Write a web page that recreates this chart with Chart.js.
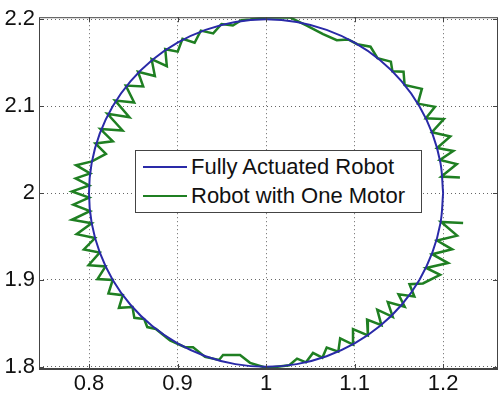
<!DOCTYPE html>
<html>
<head>
<meta charset="utf-8">
<script src="https://cdn.jsdelivr.net/npm/chart.js@4/dist/chart.umd.min.js"></script>
<style>
  body { margin: 0; background: #fff; }
  #wrap { position: relative; width: 500px; height: 394px; }
  #legend {
    position: absolute; left: 135px; top: 150px; width: 285px; height: 61px;
    border: 1px solid #444; background: #fff;
    font-family: "Liberation Sans", Arial, sans-serif; font-size: 22px; color: #111;
  }
  .item { position: absolute; left: 7px; height: 28px; display: flex; align-items: center; }
  .swatch { width: 44px; height: 2px; margin-right: 4px; }
</style>
</head>
<body>
<div id="wrap">
  <canvas id="plot" width="500" height="394"></canvas>
  <div id="legend"></div>
</div>
<script>
const xTicks = [0.8, 0.9, 1.0, 1.1, 1.2];
const yTicks = [1.8, 1.9, 2.0, 2.1, 2.2];

// desired path (fully actuated robot), read every 10 degrees
const blueX = [1.2, 1.1970, 1.1879, 1.1732, 1.1532, 1.1286, 1.1, 1.0684, 1.0347, 1.0,
  0.9653, 0.9316, 0.9, 0.8714, 0.8468, 0.8268, 0.8121, 0.8030, 0.8,
  0.8030, 0.8121, 0.8268, 0.8468, 0.8714, 0.9, 0.9316, 0.9653, 1.0,
  1.0347, 1.0684, 1.1, 1.1286, 1.1532, 1.1732, 1.1879, 1.1970, 1.2];
const blueY = [2.0, 2.0347, 2.0684, 2.1, 2.1286, 2.1532, 2.1732, 2.1879, 2.1970, 2.2,
  2.1970, 2.1879, 2.1732, 2.1532, 2.1286, 2.1, 2.0684, 2.0347, 2.0,
  1.9653, 1.9316, 1.9, 1.8714, 1.8468, 1.8268, 1.8121, 1.8030, 1.8,
  1.8030, 1.8121, 1.8268, 1.8468, 1.8714, 1.9, 1.9316, 1.9653, 2.0];

// robot with one motor, vertices of the zigzag
const greenX = [1.2226, 1.1977, 1.2158, 1.1932, 1.2102, 1.1876, 1.2056, 1.1808, 1.1966,
  1.1772, 1.1620, 1.1675, 1.1496, 1.1566, 1.1375, 1.1431, 1.1256, 1.1303, 1.1141,
  1.1150, 1.0982, 1.0982, 1.0837, 1.0816, 1.0685, 1.0636, 1.0530, 1.0451, 1.0350, 1.0262,
  1.0008, 0.9819, 0.9706, 0.9514, 0.9469, 0.9311, 0.9175, 0.9085, 0.8915,
  0.8755, 0.8658, 0.8623, 0.8512, 0.8491, 0.8338, 0.8382, 0.8219, 0.8268, 0.8096,
  0.8187, 0.7995, 0.8121, 0.7942, 0.8068, 0.7860, 0.8030, 0.7807, 0.8011, 0.7823,
  0.8001, 0.7808, 0.8002, 0.7849, 0.8013, 0.7854, 0.8033,
  0.8191, 0.8072, 0.8269, 0.8129, 0.8379, 0.8208, 0.8456, 0.8295, 0.8510, 0.8415,
  0.8612, 0.8553, 0.8744, 0.8707, 0.8879, 0.8861, 0.9002, 0.9056, 0.9193, 0.9263,
  0.9403, 0.9497, 0.9625,
  0.9720, 0.9819, 1.0008, 1.0271, 1.0460, 1.0644, 1.0799, 1.0927, 1.1030, 1.1180,
  1.1259, 1.1410,
  1.1427, 1.1553, 1.1565, 1.1760, 1.1714, 1.1908, 1.1805, 1.2008, 1.1873, 1.2081,
  1.1932, 1.2115, 1.1963, 1.2155, 1.1980, 1.2190];
const greenY = [1.9656, 1.9668, 1.9510, 1.9454, 1.9352, 1.9296, 1.9194, 1.9138, 1.9059,
  1.8959, 1.8951, 1.8809, 1.8835, 1.8690, 1.8744, 1.8574, 1.8657, 1.8479, 1.8544,
  1.8362, 1.8433, 1.8256, 1.8326, 1.8174, 1.8222, 1.8104, 1.8159, 1.8051, 1.8094, 1.8017,
  1.7985, 1.8045, 1.8135, 1.8135, 1.8078, 1.8113, 1.8225, 1.8225, 1.8304,
  1.8435, 1.8457, 1.8549, 1.8563, 1.8688, 1.8678, 1.8824, 1.8843, 1.9000, 1.9009,
  1.9155, 1.9170, 1.9316, 1.9351, 1.9482, 1.9526, 1.9653, 1.9692, 1.9791, 1.9867,
  1.9948, 2.0019, 2.0087, 2.0169, 2.0226, 2.0321, 2.0364,
  2.0451, 2.0571, 2.0596, 2.0737, 2.0721, 2.0913, 2.0874, 2.1066, 2.1043, 2.1238,
  2.1228, 2.1397, 2.1347, 2.1541, 2.1461, 2.1657, 2.1628, 2.1776, 2.1731, 2.1871,
  2.1838, 2.1947, 2.1930,
  2.1991, 2.2000, 2.2022, 2.2022, 2.1929, 2.1831, 2.1760, 2.1769, 2.1714, 2.1685,
  2.1554, 2.1513,
  2.1402, 2.1398, 2.1245, 2.1200, 2.1030, 2.0993, 2.0861, 2.0852, 2.0700, 2.0652,
  2.0518, 2.0485, 2.0382, 2.0334, 2.0190, 2.0180];

const toPoints = (xs, ys) => xs.map((x, i) => ({ x: x, y: ys[i] }));

const labelFont = { family: "'Liberation Sans', Arial, sans-serif", size: 22 };

// axes box with inward tick marks, like the matlab figure
const frame = {
  id: "frame",
  afterDatasetsDraw(chart) {
    const { ctx, chartArea: a, scales } = chart;
    ctx.save();
    ctx.strokeStyle = "#444";
    ctx.lineWidth = 1;
    ctx.strokeRect(a.left + 0.5, a.top + 0.5, a.right - a.left - 1, a.bottom - a.top - 1);
    ctx.beginPath();
    xTicks.forEach(v => {
      const px = Math.round(scales.x.getPixelForValue(v)) + 0.5;
      ctx.moveTo(px, a.bottom); ctx.lineTo(px, a.bottom - 5);
      ctx.moveTo(px, a.top); ctx.lineTo(px, a.top + 5);
    });
    yTicks.forEach(v => {
      const py = Math.round(scales.y.getPixelForValue(v)) + 0.5;
      ctx.moveTo(a.left, py); ctx.lineTo(a.left + 5, py);
      ctx.moveTo(a.right, py); ctx.lineTo(a.right - 5, py);
    });
    ctx.stroke();
    ctx.lineWidth = 2;
    ctx.beginPath();
    ctx.moveTo(a.left, a.bottom); ctx.lineTo(a.right, a.bottom);
    ctx.stroke();
    ctx.restore();
  }
};

const chart = new Chart(document.getElementById("plot"), {
  type: "scatter",
  data: {
    datasets: [
      { label: "Fully Actuated Robot", data: toPoints(blueX, blueY), showLine: true,
        borderColor: "#2a2aa8", borderWidth: 2, pointRadius: 0, tension: 0.4 },
      { label: "Robot with One Motor", data: toPoints(greenX, greenY), showLine: true,
        borderColor: "#1f7f22", borderWidth: 2.5, pointRadius: 0, tension: 0 }
    ]
  },
  options: {
    responsive: false,
    animation: false,
    layout: { padding: { top: 10, right: 2, left: 0, bottom: 0 } },
    plugins: { legend: { display: false }, tooltip: { enabled: false } },
    scales: {
      x: {
        type: "linear", min: 0.7435, max: 1.262,
        afterBuildTicks: s => { s.ticks = xTicks.map(v => ({ value: v })); },
        afterFit: s => { s.height = 25; },
        ticks: { font: labelFont, color: "#111", padding: 2, maxRotation: 0,
          callback: v => String(+v.toFixed(1)) },
        grid: { color: "#666", lineWidth: 1, drawTicks: false },
        border: { display: false, dash: [1, 3] }
      },
      y: {
        type: "linear", min: 1.7974, max: 2.2025,
        afterBuildTicks: s => { s.ticks = yTicks.map(v => ({ value: v })); },
        afterFit: s => { s.width = 39; },
        ticks: { font: labelFont, color: "#111", padding: 4,
          callback: v => String(+v.toFixed(1)) },
        grid: { color: "#666", lineWidth: 1, drawTicks: false },
        border: { display: false, dash: [1, 3] }
      }
    }
  },
  plugins: [frame]
});

// legend box drawn from the datasets
const legend = document.getElementById("legend");
chart.data.datasets.forEach((ds, i) => {
  const item = document.createElement("div");
  item.className = "item";
  item.style.top = (2 + i * 29) + "px";
  const sw = document.createElement("span");
  sw.className = "swatch";
  sw.style.background = ds.borderColor;
  const txt = document.createElement("span");
  txt.textContent = ds.label;
  item.appendChild(sw);
  item.appendChild(txt);
  legend.appendChild(item);
});
</script>
</body>
</html>
